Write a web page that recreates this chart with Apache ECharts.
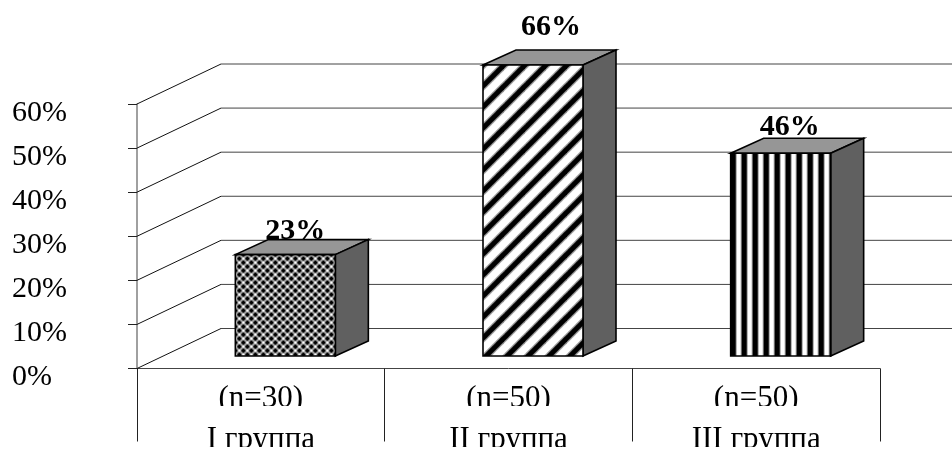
<!DOCTYPE html>
<html><head><meta charset="utf-8">
<style>html,body{margin:0;padding:0;background:#fff}#c{width:952px;height:452px}</style>
<script src="https://cdn.jsdelivr.net/npm/echarts@6/dist/echarts.min.js"></script></head>
<body><div id="c"></div>
<script>
const categories = ['(n=30)\nI группа', '(n=50)\nII группа', '(n=50)\nIII группа'];
const values = [23, 66, 46];
const valueLabels = ['23%', '66%', '46%'];
const yTicks = [0, 10, 20, 30, 40, 50, 60];

const FONT = '"Liberation Serif","Times New Roman",serif';
const WALL = [84, -40], BAR_OFFSET = 24.5, BAR_FLOOR = -12.5, BAR_W = 100, DEPTH = [33, -15];
const LABEL_SHIFT = [[10, -8], [18, -23], [9, -11]];

function tile(w, h, draw) {
  const c = document.createElement('canvas'); c.width = w; c.height = h;
  draw(c.getContext('2d'), w, h); return c;
}
const patChecks = tile(8, 8, (g) => {
  g.fillStyle = '#a0a0a0'; g.fillRect(0, 0, 8, 8);
  g.fillStyle = '#000';
  const star = (x, y) => { g.fillRect(x - 1, y - 2, 2, 4); g.fillRect(x - 2, y - 1, 4, 2); };
  star(4, 4); star(0, 0); star(8, 0); star(0, 8); star(8, 8);
  g.fillStyle = '#fff';
  g.fillRect(3, 0, 2, 1); g.fillRect(0, 3, 1, 2); g.fillRect(7, 3, 1, 2); g.fillRect(3, 7, 2, 1);
});
const patDiag = tile(21, 21, (g, w) => {
  g.fillStyle = '#fff'; g.fillRect(0, 0, w, w);
  [['#999', 7.5], ['#000', 5]].forEach(([col, lw]) => {
    g.strokeStyle = col; g.lineWidth = lw;
    for (let k = -w; k <= w; k += w) {
      g.beginPath(); g.moveTo(k - 6, w + 6); g.lineTo(k + w + 6, -6); g.stroke();
    }
  });
});
const patVert = tile(11, 4, (g) => {
  g.fillStyle = '#fff'; g.fillRect(0, 0, 11, 4);
  g.fillStyle = '#000'; g.fillRect(0, 0, 5, 4);
  g.fillStyle = '#999'; g.fillRect(5, 0, 1, 4); g.fillRect(10, 0, 1, 4);
});
const patterns = [patChecks, patDiag, patVert];

const chart = echarts.init(document.getElementById('c'), null, { renderer: 'canvas' });

function renderWall(params, api) {
  const v = api.value(1);
  const p = api.coord([0, v]);
  const left = p[0] - api.size([1, 0])[0] / 2;
  const bx = left + WALL[0], by = p[1] + WALL[1];
  return {
    type: 'group', children: [
      { type: 'line', shape: { x1: left, y1: p[1], x2: bx, y2: by }, style: { stroke: '#111', lineWidth: 1 } },
      { type: 'line', shape: { x1: bx, y1: by, x2: api.getWidth(), y2: by }, style: { stroke: '#444', lineWidth: 1 } }
    ]
  };
}
function renderBar(params, api) {
  const i = api.value(0);
  const base = api.coord([i, 0]), top = api.coord([i, api.value(1)]);
  const h = base[1] - top[1];
  const x0 = base[0] + BAR_OFFSET - BAR_W / 2, x1 = x0 + BAR_W;
  const yb = base[1] + BAR_FLOOR, yt = yb - h;
  const dx = DEPTH[0], dy = DEPTH[1];
  const edge = { stroke: '#000', lineWidth: 1.6, lineJoin: 'miter' };
  const ls = LABEL_SHIFT[i];
  return {
    type: 'group', children: [
      { type: 'text', style: { text: valueLabels[i], x: (x0 + x1) / 2 + ls[0], y: yt + ls[1], align: 'center', verticalAlign: 'bottom',
        font: 'bold 30px ' + FONT, fill: '#000' } },
      { type: 'polygon', shape: { points: [[x0, yt], [x1, yt], [x1 + dx, yt + dy], [x0 + dx, yt + dy]] }, style: Object.assign({ fill: '#969696' }, edge) },
      { type: 'polygon', shape: { points: [[x1, yt], [x1 + dx, yt + dy], [x1 + dx, yb + dy], [x1, yb]] }, style: Object.assign({ fill: '#606060' }, edge) },
      { type: 'rect', shape: { x: x0, y: yt, width: BAR_W, height: h },
        style: Object.assign({ fill: { image: patterns[i], repeat: 'repeat', x: x0, y: yt } }, edge) }
    ]
  };
}
const cover = (x, y, w, h) => ({ type: 'rect', shape: { x, y, width: w, height: h }, style: { fill: '#fff' }, z: 100, silent: true });

chart.setOption({
  animation: false,
  backgroundColor: '#fff',
  grid: { left: 137, top: 104, width: 743, height: 264.5, outerBoundsMode: 'none', containLabel: false },
  xAxis: {
    type: 'category', data: categories,
    axisLine: { lineStyle: { color: '#444', width: 1 } },
    axisTick: { show: true, alignWithLabel: false, length: 73, lineStyle: { color: '#222', width: 1 } },
    axisLabel: { interval: 0, margin: 10, fontFamily: FONT, fontSize: 31, lineHeight: 41, color: '#000' }
  },
  yAxis: {
    type: 'value', min: 0, max: 60, interval: 10,
    axisLine: { show: true, lineStyle: { color: '#808080', width: 1.5 } },
    axisTick: { show: true, length: 9, lineStyle: { color: '#222', width: 1 } },
    splitLine: { show: false },
    axisLabel: { formatter: '{value}%', align: 'left', verticalAlign: 'top', lineHeight: 18, margin: 125, fontFamily: FONT, fontSize: 30, color: '#000' }
  },
  graphic: [
    cover(5, 342, 80, 9), cover(5, 387, 80, 8),
    cover(200, 406, 120, 13), cover(450, 406, 120, 13), cover(700, 406, 120, 13),
    cover(150, 447, 700, 5)
  ],
  series: [
    { type: 'custom', renderItem: renderWall, data: yTicks.map(v => [0, v]), z: 1, silent: true },
    { type: 'custom', renderItem: renderBar, data: values.map((v, i) => [i, v]), z: 2, clip: false }
  ]
});
</script></body></html>
